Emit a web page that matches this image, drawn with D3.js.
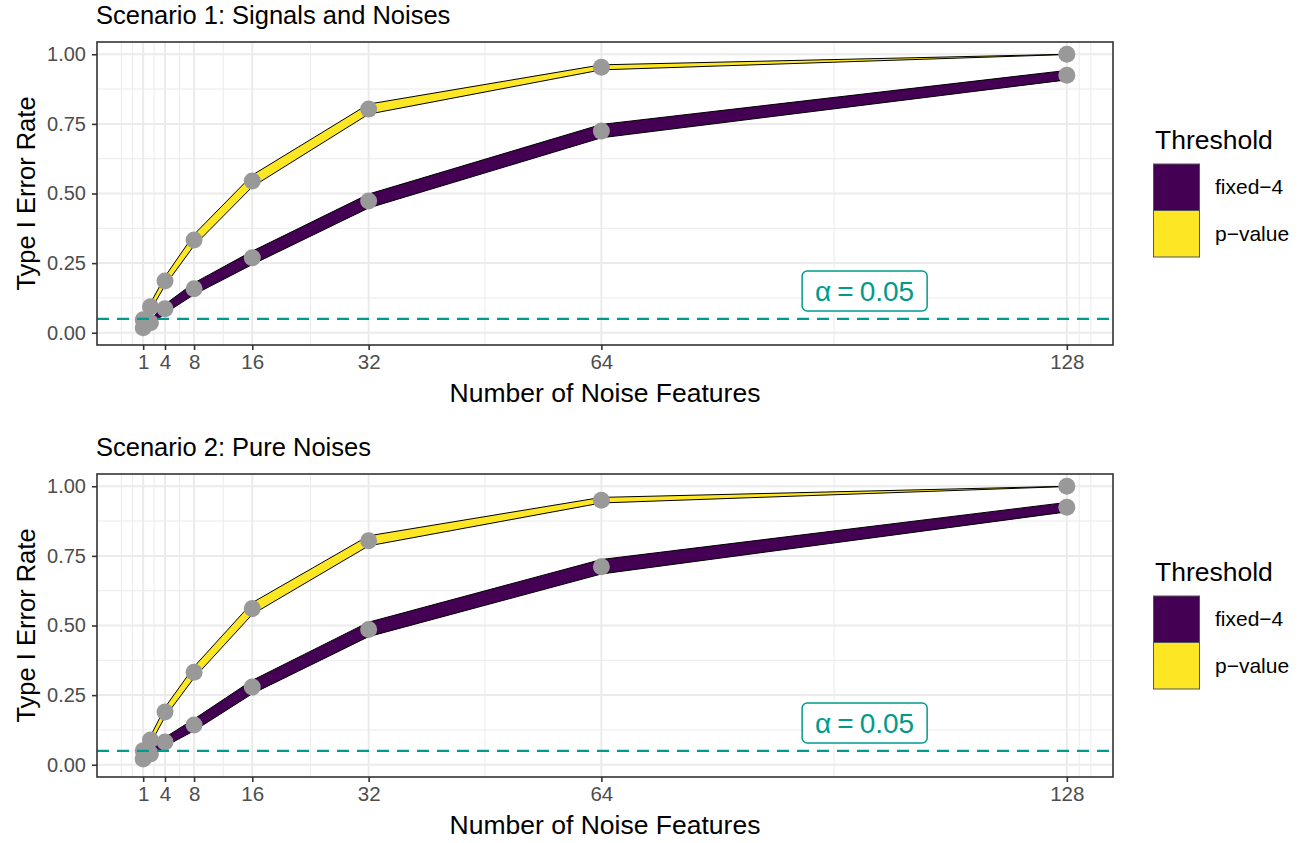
<!DOCTYPE html>
<html>
<head>
<meta charset="utf-8">
<script src="https://cdn.jsdelivr.net/npm/d3@7"></script>
<style>
  html, body { margin: 0; padding: 0; background: #fff; }
  svg { display: block; font-family: "Liberation Sans", Arial, Helvetica, sans-serif; }
</style>
</head>
<body>
<svg id="chart" width="1316" height="843"></svg>
<script>
// ---------------- data ----------------
const noiseFeatures = [1, 2, 4, 8, 16, 32, 64, 128];
const xTickValues = [1, 4, 8, 16, 32, 64, 128];
const xMinorGrid = [-2, -0.5, 2.5, 6, 12, 24, 48, 96, 129.7, 131.3];
const yTickValues = [0, 0.25, 0.5, 0.75, 1];
const yTickLabels = ["0.00", "0.25", "0.50", "0.75", "1.00"];
const yMinorGrid = [0.125, 0.375, 0.625, 0.875];
const thresholds = ["fixed\u22124", "p\u2212value"];
const alphaLevel = 0.05;

// Scenario 1: Signals and Noises
const s1Fixed4      = [0.018, 0.036, 0.086, 0.158, 0.269, 0.473, 0.724, 0.925];
const s1Fixed4Lo    = [0.010, 0.025, 0.070, 0.137, 0.245, 0.448, 0.700, 0.908];
const s1Fixed4Hi    = [0.026, 0.047, 0.102, 0.179, 0.293, 0.498, 0.748, 0.942];
const s1PValue      = [0.047, 0.093, 0.186, 0.333, 0.545, 0.803, 0.953, 1.000];
const s1PValueLo    = [0.037, 0.080, 0.170, 0.313, 0.524, 0.785, 0.944, 0.999];
const s1PValueHi    = [0.057, 0.106, 0.202, 0.353, 0.566, 0.821, 0.962, 1.000];

// Scenario 2: Pure Noises
const s2Fixed4      = [0.021, 0.039, 0.082, 0.143, 0.279, 0.486, 0.711, 0.925];
const s2Fixed4Lo    = [0.012, 0.027, 0.066, 0.122, 0.255, 0.460, 0.685, 0.908];
const s2Fixed4Hi    = [0.030, 0.051, 0.098, 0.164, 0.303, 0.512, 0.737, 0.942];
const s2PValue      = [0.050, 0.089, 0.189, 0.332, 0.561, 0.804, 0.950, 1.000];
const s2PValueLo    = [0.040, 0.076, 0.172, 0.312, 0.540, 0.786, 0.940, 0.999];
const s2PValueHi    = [0.060, 0.102, 0.206, 0.352, 0.582, 0.822, 0.960, 1.000];

const scenarioTitles = ["Scenario 1: Signals and Noises", "Scenario 2: Pure Noises"];

// ---------------- styles ----------------
const colFixed = "#440154";
const colP = "#FDE725";
const colAlpha = "#009B8C";
const colGrid = "#EBEBEB";
const colBorder = "#333333";
const colTickText = "#4D4D4D";

const svg = d3.select("#chart");

const scenarios = [
  { title: scenarioTitles[0], top: 42,
    series: [
      { name: thresholds[0], color: colFixed, mean: s1Fixed4, lo: s1Fixed4Lo, hi: s1Fixed4Hi },
      { name: thresholds[1], color: colP, mean: s1PValue, lo: s1PValueLo, hi: s1PValueHi }
    ] },
  { title: scenarioTitles[1], top: 474,
    series: [
      { name: thresholds[0], color: colFixed, mean: s2Fixed4, lo: s2Fixed4Lo, hi: s2Fixed4Hi },
      { name: thresholds[1], color: colP, mean: s2PValue, lo: s2PValueLo, hi: s2PValueHi }
    ] }
];

const panelLeft = 97, panelRight = 1113, panelH = 303;

scenarios.forEach((sc) => {
  const top = sc.top, bottom = top + panelH;
  const x = d3.scaleLinear().domain([-5.35, 134.35]).range([panelLeft, panelRight]);
  const y = d3.scaleLinear().domain([-0.044, 1.044]).range([bottom, top]);
  const g = svg.append("g");

  // title
  g.append("text").attr("x", panelLeft - 1).attr("y", top - 18.5)
    .attr("font-size", 25.5).attr("fill", "#000").text(sc.title);

  // grid
  const grid = g.append("g");
  grid.selectAll(".ymin").data(yMinorGrid).join("line")
    .attr("x1", panelLeft).attr("x2", panelRight)
    .attr("y1", d => y(d)).attr("y2", d => y(d))
    .attr("stroke", colGrid).attr("stroke-width", 1);
  grid.selectAll(".xmin").data(xMinorGrid).join("line")
    .attr("y1", top).attr("y2", bottom)
    .attr("x1", d => x(d)).attr("x2", d => x(d))
    .attr("stroke", colGrid).attr("stroke-width", 1);
  grid.selectAll(".ymaj").data(yTickValues).join("line")
    .attr("x1", panelLeft).attr("x2", panelRight)
    .attr("y1", d => y(d)).attr("y2", d => y(d))
    .attr("stroke", colGrid).attr("stroke-width", 2);
  grid.selectAll(".xmaj").data(xTickValues).join("line")
    .attr("y1", top).attr("y2", bottom)
    .attr("x1", d => x(d)).attr("x2", d => x(d))
    .attr("stroke", colGrid).attr("stroke-width", 2);

  // ribbons
  sc.series.forEach(s => {
    const rows = noiseFeatures.map((n, i) => ({ n, lo: s.lo[i], hi: s.hi[i], m: s.mean[i] }));
    const area = d3.area().x(d => x(d.n)).y0(d => y(d.lo)).y1(d => y(d.hi));
    g.append("path").datum(rows).attr("d", area).attr("fill", s.color).attr("stroke", "none");
    const lineLo = d3.line().x(d => x(d.n)).y(d => y(d.lo));
    const lineHi = d3.line().x(d => x(d.n)).y(d => y(d.hi));
    g.append("path").datum(rows).attr("d", lineLo).attr("fill", "none").attr("stroke", "#000").attr("stroke-width", 1);
    g.append("path").datum(rows).attr("d", lineHi).attr("fill", "none").attr("stroke", "#000").attr("stroke-width", 1);
  });

  // points
  sc.series.forEach(s => {
    g.append("g").selectAll("circle").data(noiseFeatures.map((n, i) => ({ n, m: s.mean[i] })))
      .join("circle").attr("cx", d => x(d.n)).attr("cy", d => y(d.m))
      .attr("r", 8.5).attr("fill", "#999999");
  });

  // alpha line
  g.append("line").attr("x1", panelLeft).attr("x2", panelRight)
    .attr("y1", y(alphaLevel)).attr("y2", y(alphaLevel))
    .attr("stroke", colAlpha).attr("stroke-width", 2.2).attr("stroke-dasharray", "12,8");

  // alpha label
  const lx = x(100.2), ly = y(0.15);
  const lab = g.append("g");
  lab.append("rect").attr("x", lx - 62.5).attr("y", ly - 20).attr("width", 125).attr("height", 40)
    .attr("rx", 5).attr("fill", "#fff").attr("stroke", colAlpha).attr("stroke-width", 1.5);
  const t = lab.append("text").attr("x", lx).attr("y", ly + 10).attr("text-anchor", "middle")
    .attr("font-size", 28).attr("fill", colAlpha);
  t.append("tspan").text("\u03B1");
  t.append("tspan").attr("dx", 6).text("=");
  t.append("tspan").attr("dx", 6).text(alphaLevel.toFixed(2));

  // border
  g.append("rect").attr("x", panelLeft).attr("y", top).attr("width", panelRight - panelLeft).attr("height", panelH)
    .attr("fill", "none").attr("stroke", colBorder).attr("stroke-width", 1.6);

  // axes
  const xAxis = d3.axisBottom(x).tickValues(xTickValues).tickSize(5).tickPadding(4).tickFormat(d3.format("d"));
  const gx = g.append("g").attr("transform", `translate(0,${bottom})`).call(xAxis);
  gx.select(".domain").remove();
  gx.selectAll("line").attr("stroke", colBorder).attr("stroke-width", 1.6);
  gx.selectAll("text").attr("fill", colTickText).attr("font-size", 20.5).attr("font-family", null);

  const yAxis = d3.axisLeft(y).tickValues(yTickValues).tickSize(5).tickPadding(6)
    .tickFormat((d, i) => yTickLabels[i]);
  const gy = g.append("g").attr("transform", `translate(${panelLeft},0)`).call(yAxis);
  gy.select(".domain").remove();
  gy.selectAll("line").attr("stroke", colBorder).attr("stroke-width", 1.6);
  gy.selectAll("text").attr("fill", colTickText).attr("font-size", 20).attr("font-family", null);

  // axis titles
  g.append("text").attr("x", (panelLeft + panelRight) / 2).attr("y", bottom + 57)
    .attr("text-anchor", "middle").attr("font-size", 26.5).attr("fill", "#000")
    .text("Number of Noise Features");
  g.append("text").attr("transform", `translate(35,${(top + bottom) / 2}) rotate(-90)`)
    .attr("text-anchor", "middle").attr("font-size", 25.5).attr("fill", "#000")
    .text("Type I Error Rate");

  // legend
  const legTop = top + 80;
  const leg = g.append("g");
  leg.append("text").attr("x", 1155).attr("y", legTop + 27).attr("font-size", 26.5).attr("fill", "#000").text("Threshold");
  sc.series.forEach((s, i) => {
    leg.append("rect").attr("x", 1153.5).attr("y", legTop + 42 + i * 46.5).attr("width", 46).attr("height", 46.5)
      .attr("fill", s.color).attr("stroke", "#555").attr("stroke-width", 1);
    leg.append("text").attr("x", 1215).attr("y", legTop + 42 + i * 46.5 + 30)
      .attr("font-size", 21).attr("fill", "#000").text(s.name);
  });
});
</script>
</body>
</html>
